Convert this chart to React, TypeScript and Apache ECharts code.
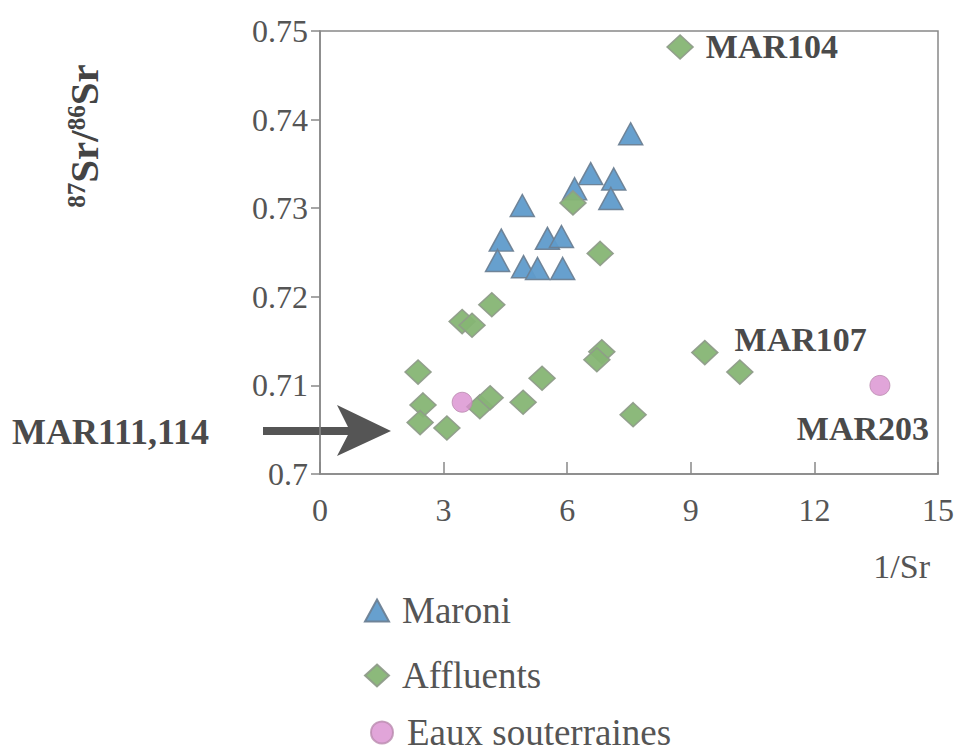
import React, { useEffect, useRef } from "react";
import * as echarts from "echarts";

const maroniX = [7.54, 6.57, 7.13, 7.06, 6.18, 4.91, 4.4, 4.31, 4.94, 5.28, 5.52, 5.86, 5.89];
const maroniY = [0.7384, 0.7339, 0.7333, 0.7311, 0.7322, 0.7303, 0.7264, 0.7241, 0.7234, 0.7232, 0.7266, 0.7268, 0.7232];

const affluentsX = [8.74, 6.14, 6.8, 4.17, 3.45, 3.69, 2.38, 2.5, 2.43, 3.08, 3.88, 4.13, 4.93, 5.39, 6.84, 6.72, 7.6, 9.34, 10.19];
const affluentsY = [0.7482, 0.7306, 0.7249, 0.7191, 0.7172, 0.7168, 0.7115, 0.7078, 0.7058, 0.7052, 0.7076, 0.7086, 0.7081, 0.7108, 0.7138, 0.7129, 0.7067, 0.7137, 0.7115];
const affluentsLabels = ["MAR104", "", "", "", "", "", "", "", "", "", "", "", "", "", "", "", "", "MAR107", ""];

const eauxX = [3.45, 13.59];
const eauxY = [0.7081, 0.71];
const eauxLabels = ["", "MAR203"];

const xTicks = [0, 3, 6, 9, 12, 15];
const yTicks = [0.7, 0.71, 0.72, 0.73, 0.74, 0.75];

const SERIF = "'Liberation Serif', 'DejaVu Serif', serif";
const TXT = "#555";

export default function App() {
  const ref = useRef<HTMLDivElement>(null);
  useEffect(() => {
    if (!ref.current) return;
    const chart = echarts.init(ref.current, undefined, { renderer: "svg" });
    const labelStyle = {
      fontFamily: SERIF,
      fontWeight: "bold" as const,
      fontSize: 34,
      color: "#4a4a4a",
      opacity: 1,
      textBorderWidth: 0,
    };
    const legendBase = {
      orient: "vertical",
      left: 364,
      padding: 0,
      itemWidth: 24,
      itemHeight: 22,
      textStyle: { fontFamily: SERIF, fontSize: 37, color: TXT, padding: [0, 0, 0, 8] },
    };
    chart.setOption({
      animation: false,
      backgroundColor: "#fff",
      grid: {
        left: 320,
        right: 26,
        top: 31,
        bottom: 279,
        show: true,
        borderColor: "#888",
        borderWidth: 1.5,
      },
      legend: [
        { ...legendBase, top: 592, data: [{ name: "Maroni", icon: "triangle" }] },
        { ...legendBase, top: 657, data: [{ name: "Affluents", icon: "diamond" }] },
        { ...legendBase, top: 714, left: 370, data: [{ name: "Eaux souterraines", icon: "circle" }] },
      ],
      xAxis: {
        type: "value",
        min: xTicks[0],
        max: xTicks[xTicks.length - 1],
        interval: 3,
        splitLine: { show: false },
        axisLine: { lineStyle: { color: "#888", width: 1.5 } },
        axisTick: { inside: true, length: 12, lineStyle: { color: "#888", width: 1.5 } },
        axisLabel: { fontFamily: SERIF, fontSize: 32, color: TXT, margin: 20 },
        name: "1/Sr",
        nameLocation: "end",
        nameGap: 0,
        nameTextStyle: {
          fontFamily: SERIF,
          fontSize: 34,
          color: TXT,
          align: "right",
          verticalAlign: "top",
          padding: [75, 8, 0, 0],
        },
      },
      yAxis: {
        type: "value",
        min: yTicks[0],
        max: yTicks[yTicks.length - 1],
        interval: 0.01,
        splitLine: { show: false },
        axisLine: { lineStyle: { color: "#888", width: 1.5 } },
        axisTick: { length: 9, lineStyle: { color: "#888", width: 1.5 } },
        axisLabel: {
          fontFamily: SERIF,
          fontSize: 32,
          color: TXT,
          margin: 12,
          formatter: (v: number) => String(parseFloat(v.toFixed(2))),
        },
      },
      series: [
        {
          name: "Maroni",
          type: "scatter",
          symbol: "triangle",
          symbolSize: [24, 22],
          itemStyle: { color: "#5f9bcb", borderColor: "#6b7f93", borderWidth: 1.5, opacity: 0.95 },
          data: maroniX.map((x, i) => [x, maroniY[i]]),
          z: 3,
        },
        {
          name: "Affluents",
          type: "scatter",
          symbol: "diamond",
          symbolSize: [26, 24],
          itemStyle: { color: "#86b574", borderColor: "#8f9c8a", borderWidth: 1.5, opacity: 0.95 },
          data: affluentsX.map((x, i) => ({
            value: [x, affluentsY[i]],
            label: affluentsLabels[i]
              ? {
                  show: true,
                  formatter: affluentsLabels[i],
                  position: "right",
                  distance: affluentsLabels[i] === "MAR104" ? 12 : 16,
                  offset: affluentsLabels[i] === "MAR107" ? [0, -13] : [0, 0],
                  ...labelStyle,
                }
              : { show: false },
          })),
          z: 4,
        },
        {
          name: "Eaux souterraines",
          type: "scatter",
          symbol: "circle",
          symbolSize: 20,
          itemStyle: { color: "#d98fd0", borderColor: "#b989ae", borderWidth: 1 },
          data: eauxX.map((x, i) => ({
            value: [x, eauxY[i]],
            label: eauxLabels[i]
              ? {
                  show: true,
                  formatter: eauxLabels[i],
                  position: "bottom",
                  distance: 16,
                  offset: [-17, 0],
                  ...labelStyle,
                }
              : { show: false },
          })),
          z: 5,
        },
      ],
      graphic: [
        {
          type: "text",
          left: 12,
          top: 414,
          style: { text: "MAR111,114", font: `bold 36px ${SERIF}`, fill: "#4a4a4a" },
        },
        {
          type: "line",
          shape: { x1: 263, y1: 431, x2: 365, y2: 431 },
          style: { stroke: "#555", lineWidth: 8 },
        },
        {
          type: "polygon",
          shape: { points: [[337, 405], [391, 431], [337, 456], [350, 431]] },
          style: { fill: "#555" },
        },
        {
          type: "text",
          x: 84,
          y: 136,
          rotation: Math.PI / 2,
          style: {
            text: "{sup|87}{b|Sr/}{sup|86}{b|Sr}",
            align: "center",
            verticalAlign: "middle",
            rich: {
              sup: { fontFamily: SERIF, fontWeight: "bold", fontSize: 25, fill: "#444", verticalAlign: "top", padding: [0, 0, 16, 0] },
              b: { fontFamily: SERIF, fontWeight: "bold", fontSize: 41, fill: "#444" },
            },
          },
        },
      ],
    });
    return () => chart.dispose();
  }, []);
  return <div ref={ref} style={{ width: 964, height: 753, position: "absolute", left: 0, top: 0 }} />;
}
